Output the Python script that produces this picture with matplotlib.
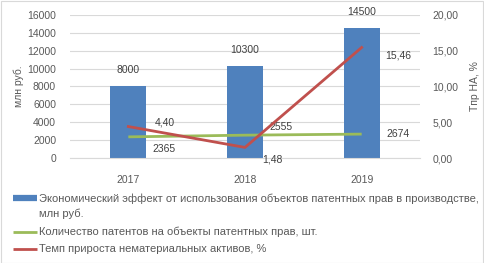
import matplotlib
matplotlib.use("Agg")
import matplotlib.pyplot as plt
from matplotlib.lines import Line2D
from matplotlib.patches import Rectangle

years = ["2017", "2018", "2019"]
effect = [8000, 10300, 14500]
patents = [2365, 2555, 2674]
growth = [4.40, 1.48, 15.46]
legend_labels = [
    "Экономический эффект от использования объектов патентных прав в производстве,\nмлн руб.",
    "Количество патентов на объекты патентных прав, шт.",
    "Темп прироста нематериальных активов, %",
]

W, H = 484, 263
plt.rcParams['font.family'] = ['Liberation Sans', 'DejaVu Sans']
TXT = '#595959'
FS = 7.5
BLUE, GREEN, RED = '#4F81BD', '#9BBB59', '#C0504D'

fig = plt.figure(figsize=(W/100, H/100), dpi=100)
fig.add_artist(Rectangle((0.5/W, 0.5/H), 1-1.5/W, 1-1.5/H, transform=fig.transFigure,
                         fill=False, edgecolor='#D9D9D9', lw=0.8))

def fx(px):
    return px / W
def fy(py):
    return 1 - py / H

ax = fig.add_axes([fx(70), fy(158), fx(420) - fx(70), fy(15) - fy(158)])
x = list(range(len(years)))
ax.bar(x, effect, width=0.31, color=BLUE, zorder=2)
ax.plot(x, patents, color=GREEN, lw=2, zorder=3, solid_capstyle='butt')
ax.set_xlim(-0.5, 2.5)
ax.set_ylim(0, 16000)
ax.set_yticks(range(0, 16001, 2000))
ax.set_xticks(x)
ax.set_xticklabels(years)
ax.grid(axis='y', color='#D9D9D9', lw=0.8, zorder=0)
ax.set_axisbelow(True)
for s in ax.spines.values():
    s.set_visible(False)
ax.spines['bottom'].set_visible(True)
ax.spines['bottom'].set_color('#D9D9D9')
ax.tick_params(length=0, colors=TXT, labelsize=FS)
ax.tick_params(axis='x', pad=12)
ax.tick_params(axis='y', pad=10)
ax.set_ylabel("млн руб.", color=TXT, fontsize=FS, labelpad=2)

ax2 = ax.twinx()
ax2.plot(x, growth, color=RED, lw=2, zorder=4)
ax2.set_ylim(0, 20)
ax2.set_yticks(range(0, 21, 5))
ax2.set_yticklabels([f"{v:.2f}".replace('.', ',') for v in range(0, 21, 5)])
for s in ax2.spines.values():
    s.set_visible(False)
ax2.tick_params(length=0, colors=TXT, labelsize=FS, pad=9)
ax2.set_ylabel("Tпр НА, %", color=TXT, fontsize=FS, labelpad=8)

# data labels
for i, v in enumerate(effect):
    ax.annotate(f"{v}", (i, v), xytext=(0, 8), textcoords='offset points',
                ha='center', va='bottom', color='#404040', fontsize=FS)
g_off = [(26, -9), (26, 6), (26, 0)]
for i, v in enumerate(patents):
    ax.annotate(f"{v}", (i, v), xytext=g_off[i], textcoords='offset points',
                ha='center', va='center', color='#404040', fontsize=FS)
r_off = [(26, 3), (20, -9), (26, -6)]
for i, v in enumerate(growth):
    ax2.annotate(f"{v:.2f}".replace('.', ','), (i, v), xytext=r_off[i], textcoords='offset points',
                 ha='center', va='center', color='#404040', fontsize=FS)

# legend
LFS = 8
rows = [198, 232, 249]
styles = [(BLUE, 4.5), (GREEN, 2), (RED, 2)]
for (c, lw), ry, lab in zip(styles, rows, legend_labels):
    fig.add_artist(Line2D([fx(13), fx(37)], [fy(ry), fy(ry)], transform=fig.transFigure,
                          color=c, lw=lw, solid_capstyle='butt'))
    if '\n' in lab:
        fig.text(fx(39), fy(ry - 5), lab, ha='left', va='top',
                 color=TXT, fontsize=LFS, linespacing=1.55,
                 transform=fig.transFigure)
    else:
        fig.text(fx(39), fy(ry), lab, ha='left', va='center',
                 color=TXT, fontsize=LFS, transform=fig.transFigure)

fig.savefig("out.png", dpi=100)
